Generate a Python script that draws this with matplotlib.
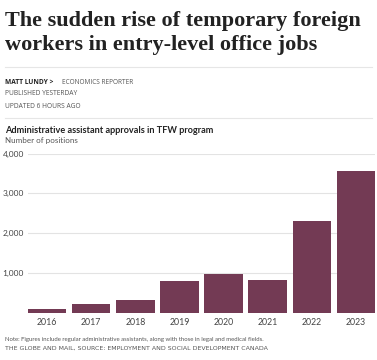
import matplotlib.pyplot as plt
from matplotlib.lines import Line2D

# data
years = ['2016', '2017', '2018', '2019', '2020', '2021', '2022', '2023']
approvals = [100, 205, 305, 785, 960, 825, 2300, 3570]
y_ticks = [1000, 2000, 3000, 4000]
y_tick_labels = ['1,000', '2,000', '3,000', '4,000']

W, H = 377, 360
bar_color = '#733a54'
text_dark = '#222222'
text_gray = '#555555'


# helper: pixel position (from top left) to figure fraction
def px(x, y):
    return x / W, 1 - y / H


fig = plt.figure(figsize=(W / 100, H / 100), dpi=100)
fig.patch.set_facecolor('white')

# headline
fig.text(*px(5, 26), 'The sudden rise of temporary foreign', fontsize=16,
         fontweight='bold', family='Liberation Serif', color=text_dark, va='baseline')
fig.text(*px(5, 50), 'workers in entry-level office jobs', fontsize=16,
         fontweight='bold', family='Liberation Serif', color=text_dark, va='baseline')

# separators
fig.add_artist(Line2D([5 / W, 372 / W], [1 - 67 / H] * 2, color='#e6e6e6', lw=0.8))
fig.add_artist(Line2D([5 / W, 372 / W], [1 - 118 / H] * 2, color='#e6e6e6', lw=0.8))

# byline
fig.text(*px(5, 84), 'MATT LUNDY >', fontsize=4.8, fontweight='bold',
         family='Open Sans', color=text_dark, va='baseline')
fig.text(*px(62, 84), 'ECONOMICS REPORTER', fontsize=4.7,
         family='Open Sans', color=text_gray, va='baseline')
fig.text(*px(5, 95), 'PUBLISHED YESTERDAY', fontsize=4.8,
         family='Open Sans', color=text_gray, va='baseline')
fig.text(*px(5, 108), 'UPDATED 6 HOURS AGO', fontsize=4.8,
         family='Open Sans', color=text_gray, va='baseline')

# chart title
fig.text(*px(5, 133), 'Administrative assistant approvals in TFW program', fontsize=6.6,
         fontweight='bold', family='Lato', color=text_dark, va='baseline')
fig.text(*px(5, 143), 'Number of positions', fontsize=5.8,
         family='Lato', color=text_gray, va='baseline')

# bar chart
ax = fig.add_axes([28 / W, 1 - 312.5 / H, (375 - 28) / W, (312.5 - 153.5) / H])
x = range(len(years))
ax.bar(x, approvals, width=0.87, color=bar_color, zorder=2)
ax.set_xlim(-0.435, len(years) - 1 + 0.435)
ax.set_ylim(0, 4000)
ax.set_yticks(y_ticks)
ax.set_yticklabels(y_tick_labels, family='Lato', fontsize=6, color='#444444')
ax.set_xticks(list(x))
ax.set_xticklabels(years, family='Lato', fontsize=6.3, color='#444444')
ax.tick_params(axis='both', length=0)
ax.tick_params(axis='y', pad=3)
ax.tick_params(axis='x', pad=4)
ax.grid(axis='y', color='#e3e3e3', lw=0.8, zorder=0)
for s in ax.spines.values():
    s.set_visible(False)

# notes
fig.text(*px(5, 341), 'Note: Figures include regular administrative assistants, along with those in legal and medical fields.',
         fontsize=4.35, family='Lato', color=text_gray, va='baseline')
fig.text(*px(5, 350), 'THE GLOBE AND MAIL, SOURCE: EMPLOYMENT AND SOCIAL DEVELOPMENT CANADA',
         fontsize=4.5, family='DejaVu Sans', color=text_gray, va='baseline')

plt.savefig('out.png', dpi=100)
